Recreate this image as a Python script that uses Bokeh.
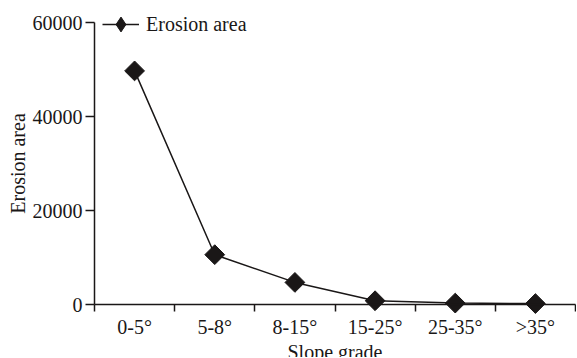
import math
from bokeh.plotting import figure
from bokeh.models import FixedTicker, Range1d, Legend, LegendItem, LinearAxis
from bokeh.embed import file_html
from bokeh.resources import INLINE

categories = ["0-5°", "5-8°", "8-15°", "15-25°", "25-35°", ">35°"]
erosion_area = [49700, 10600, 4700, 800, 300, 200]
y_ticks = [0, 20000, 40000, 60000]

FONT = "Liberation Serif"
INK = "#1a1717"

n = len(categories)
x_pos = [i + 0.5 for i in range(n)]

W, H = 576, 357
# frame occupies the whole canvas; axes are drawn at fixed locations inside it
x_left_px, x_right_px = 94, 575     # where x=0 and x=n fall
y_top_px, y_bot_px = 22, 304        # where y=60000 and y=0 fall
xs = n / (x_right_px - x_left_px)
ys = 60000 / (y_bot_px - y_top_px)
x_range = Range1d(-x_left_px * xs, n + (W - x_right_px) * xs)
y_range = Range1d(-(H - y_bot_px) * ys, 60000 + y_top_px * ys)

p = figure(width=W, height=H, output_backend="svg", toolbar_location=None,
           x_range=x_range, y_range=y_range, x_axis_location=None, y_axis_location=None,
           min_border=0)
p.outline_line_color = None
p.grid.visible = False
p.background_fill_color = "white"

ln = p.line(x_pos, erosion_area, line_color=INK, line_width=1.5)
sc = p.scatter(x_pos, erosion_area, marker="square", angle=math.pi / 4, size=14,
               fill_color=INK, line_color=INK)
# legend key only (hidden in the plot): a diamond like the reference's legend symbol
key = p.scatter(x=x_pos[:1], y=erosion_area[:1], marker="diamond",
                fill_color=INK, line_color=INK, visible=False)

xa = LinearAxis(fixed_location=0, bounds=(0, n))
xa.ticker = FixedTicker(ticks=x_pos, minor_ticks=list(range(n + 1)))
xa.major_label_overrides = {x: c for x, c in zip(x_pos, categories)}
xa.major_tick_out = 0
xa.major_tick_in = 0
xa.minor_tick_out = 7
xa.minor_tick_in = 0
xa.minor_tick_line_color = INK
xa.minor_tick_line_width = 1.5
xa.axis_line_color = INK
xa.axis_line_width = 1.5
xa.major_label_text_font = FONT
xa.major_label_text_font_size = "20px"
xa.major_label_text_color = INK
xa.major_label_standoff = 4
xa.axis_label = "Slope grade"
xa.axis_label_text_font = FONT
xa.axis_label_text_font_size = "20px"
xa.axis_label_text_font_style = "normal"
xa.axis_label_text_color = INK
xa.axis_label_standoff = 0
p.add_layout(xa, "below")

ya = LinearAxis(fixed_location=0, bounds=(0, 60000))
ya.ticker = FixedTicker(ticks=y_ticks, minor_ticks=[])
ya.major_tick_out = 9
ya.major_tick_in = 0
ya.major_tick_line_color = INK
ya.major_tick_line_width = 1.5
ya.axis_line_color = INK
ya.axis_line_width = 1.5
ya.major_label_text_font = FONT
ya.major_label_text_font_size = "20px"
ya.major_label_text_color = INK
ya.major_label_standoff = 3
ya.axis_label = "Erosion area"
ya.axis_label_text_font = FONT
ya.axis_label_text_font_size = "20px"
ya.axis_label_text_font_style = "normal"
ya.axis_label_text_color = INK
ya.axis_label_standoff = 1
p.add_layout(ya, "left")

legend = Legend(items=[LegendItem(label="Erosion area", renderers=[ln, key])],
                location=(102, H - 44), padding=0, margin=0, spacing=0,
                glyph_width=37, glyph_height=40, label_height=20,
                label_standoff=7, label_text_font=FONT, label_text_font_size="20px",
                label_text_color=INK, border_line_color=None, background_fill_alpha=0,
                inactive_fill_alpha=0)
p.add_layout(legend)

open("out.html", "w").write(file_html(p, INLINE))
